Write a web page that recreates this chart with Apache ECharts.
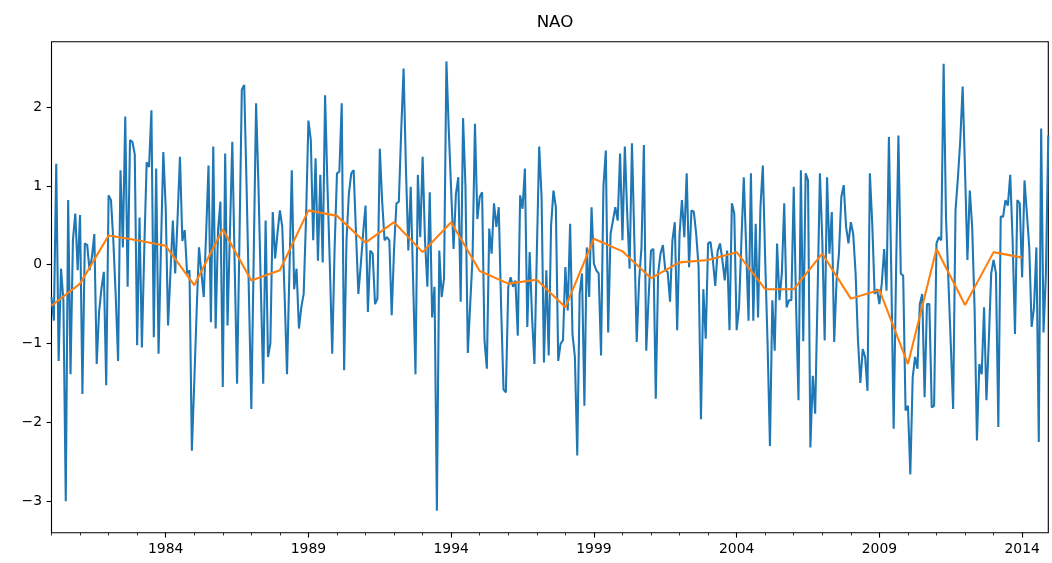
<!DOCTYPE html>
<html><head><meta charset="utf-8">
<script src="https://cdn.jsdelivr.net/npm/echarts@6/dist/echarts.min.js"></script>
<style>html,body{margin:0;padding:0;background:#fff}#c{width:1052px;height:563px}</style>
</head><body><div id="c"></div>
<script>
// Monthly NAO index, first value = January of startYear
const startYear = 1980;
const nao1980s = [
 -0.41,-0.71,1.28,-1.22,-0.05,-0.45,-3.0,0.82,-1.39,0.31,0.65,-0.07,
 0.63,-1.64,0.27,0.25,-0.07,0.1,0.39,-1.26,-0.6,-0.3,-0.09,-1.53,
 0.88,0.82,0.3,-0.4,-1.22,1.2,0.22,1.88,-0.28,1.58,1.56,1.4,
 -1.02,0.6,-1.05,0.2,1.3,1.24,1.96,-0.92,1.22,-1.13,0.2,1.43,
 0.73,-0.77,-0.1,0.56,-0.11,0.6,1.37,0.3,0.44,-0.11,-0.07,-2.36,
 -1.5,-0.6,0.22,-0.1,-0.41,0.4,1.26,-0.73,1.5,-0.81,0.44,0.8,
 -1.55,1.41,-0.77,0.4,1.56,0.0,-1.51,0.3,2.22,2.28,1.0,-0.4,
 -1.83,0.1,2.05,1.0,-0.3,-1.51,0.56,-1.17,-1.0,0.67,0.08,0.4,
 0.69,0.48,-0.4,-1.39,-0.1,1.2,-0.31,-0.05,-0.81,-0.54,-0.37,0.6,
 1.83,1.58,0.31,1.35,0.05,1.14,0.03,2.15,1.0,0.0,-1.13,0.2
];
const nao1990s = [
 1.16,1.18,2.05,-1.34,0.31,0.9,1.16,1.2,0.4,-0.37,0.0,0.4,
 0.75,-0.6,0.18,0.14,-0.5,-0.43,1.47,0.8,0.31,0.35,0.31,-0.64,
 0.2,0.78,0.8,1.7,2.49,1.2,0.18,0.99,-0.2,-1.39,1.14,0.35,
 1.37,0.31,-0.28,0.92,-0.67,-0.28,-3.12,0.18,-0.41,-0.18,2.58,1.7,
 0.94,0.2,0.9,1.11,-0.47,1.86,1.0,-1.12,-0.5,0.1,1.79,0.58,
 0.86,0.92,-0.96,-1.32,0.46,0.14,0.78,0.48,0.73,-0.54,-1.58,-1.62,
 -0.28,-0.16,-0.28,-0.2,-0.9,0.88,0.71,1.22,-0.79,0.16,-0.67,-1.26,
 0.14,1.5,0.86,-1.24,-0.07,-1.15,0.5,0.94,0.73,-1.22,-1.0,-0.96,
 -0.03,-0.58,0.52,-0.88,-1.17,-2.42,-0.37,-0.11,-1.79,0.22,-0.41,0.73,
 0.01,-0.07,-0.11,-1.15,0.99,1.45,-0.86,0.39,0.56,0.73,0.56,1.41
];
const nao2000s = [
 0.31,1.5,0.65,-0.05,1.54,0.31,-0.98,-0.2,0.22,1.52,-1.09,-0.41,
 0.18,0.2,-1.7,-0.11,0.14,0.25,-0.07,-0.09,-0.47,0.31,0.54,-0.83,
 0.39,0.82,0.35,1.16,-0.03,0.69,0.67,0.39,-0.03,-1.96,-0.31,-0.94,
 0.27,0.29,0.06,-0.27,0.17,0.27,0.06,-0.2,0.18,-0.83,0.78,0.65,
 -0.83,-0.54,0.3,1.11,0.22,-0.71,1.16,-0.71,0.52,-0.67,0.73,1.26,
 0.06,-1.0,-2.3,-0.45,-1.09,0.27,-0.45,-0.11,0.78,-0.54,-0.45,-0.45,
 0.99,-0.54,-1.72,1.2,-0.97,1.16,1.07,-2.32,-1.41,-1.89,-0.41,1.16,
 0.31,-0.96,1.11,0.14,0.67,-0.98,-0.2,0.14,0.86,1.01,0.48,0.27,
 0.54,0.39,-0.11,-0.96,-1.5,-1.07,-1.17,-1.6,1.16,0.52,-0.37,-0.31,
 -0.5,-0.24,0.2,-0.33,1.62,-0.11,-2.08,-0.11,1.64,-0.11,-0.14,-1.85
];
const nao2010s = [
 -1.79,-2.66,-1.43,-1.17,-1.32,-0.5,-0.37,-1.68,-0.5,-0.5,-1.81,-1.79,
 0.27,0.35,0.31,2.55,0.6,-0.2,-1.0,-1.83,0.69,1.1,1.58,2.26,
 1.2,0.06,0.94,0.48,-0.54,-2.23,-1.26,-1.39,-0.54,-1.72,-0.96,-0.11,
 0.06,-0.11,-2.06,0.61,0.61,0.82,0.75,1.14,0.31,-0.88,0.82,0.78,
 -0.16,1.07,0.65,0.22,-0.79,-0.54,0.22,-2.25,1.73,-0.86,-0.11,1.64
];
// Annual means (plotted at the start of each year)
const annualYears = [1980,1981,1982,1983,1984,1985,1986,1987,1988,1989,1990,1991,1992,1993,1994,1995,1996,1997,1998,1999,2000,2001,2002,2003,2004,2005,2006,2007,2008,2009,2010,2011,2012,2013,2014];
const annualMean = [-0.52,-0.24,0.37,0.31,0.24,-0.26,0.45,-0.2,-0.07,0.69,0.62,0.28,0.54,0.16,0.54,-0.08,-0.24,-0.19,-0.54,0.33,0.17,-0.17,0.03,0.06,0.16,-0.31,-0.31,0.14,-0.43,-0.32,-1.26,0.2,-0.51,0.16,0.09];
const xTickYears = [1984,1989,1994,1999,2004,2009,2014];
const yTicks = [-3,-2,-1,0,1,2];

const monthly = nao1980s.concat(nao1990s, nao2000s, nao2010s);
const monthlyData = monthly.map((v, i) => [startYear + i / 12, v]);
const annualData = annualYears.map((y, i) => [y, annualMean[i]]);
const xMin = startYear, xMax = startYear + (monthly.length - 1) / 12;
const minorYears = [];
for (let y = startYear; y <= Math.floor(xMax); y++) minorYears.push(y);

const chart = echarts.init(document.getElementById('c'), null, {renderer: 'canvas'});
const font = 'DejaVu Sans';
chart.setOption({
  animation: false,
  backgroundColor: '#fff',
  title: {text: 'NAO', left: 550, top: 9, textAlign: 'center',
    textStyle: {fontFamily: font, fontSize: 16.7, fontWeight: 'normal', color: '#000'}},
  grid: {left: 51.5, right: 3.7, top: 41.7, bottom: 30.3, show: true, borderColor: '#000', borderWidth: 1.1, backgroundColor: 'transparent'},
  xAxis: [{
    type: 'value', min: xMin, max: xMax, gridIndex: 0, position: 'bottom',
    axisLine: {show: false, onZero: false}, splitLine: {show: false},
    axisTick: {show: true, customValues: xTickYears, length: 4.9, lineStyle: {color: '#000', width: 1.1}},
    axisLabel: {customValues: xTickYears, formatter: v => String(v), margin: 9.5, color: '#000', fontFamily: font, fontSize: 13.9}
  }, {
    type: 'value', min: xMin, max: xMax, gridIndex: 0, position: 'bottom',
    axisLine: {show: false, onZero: false}, splitLine: {show: false},
    axisTick: {show: true, customValues: minorYears, length: 2.8, lineStyle: {color: '#000', width: 0.8}},
    axisLabel: {show: false}
  }],
  yAxis: {
    type: 'value', min: -3.40, max: 2.83,
    axisLine: {show: false, onZero: false}, splitLine: {show: false},
    axisTick: {show: true, customValues: yTicks, length: 4.9, lineStyle: {color: '#000', width: 1.1}},
    axisLabel: {customValues: yTicks, formatter: v => String(v).replace('-', '\u2212'), margin: 9.5, color: '#000', fontFamily: font, fontSize: 13.9}
  },
  series: [
    {type: 'line', data: monthlyData, showSymbol: false, xAxisIndex: 0, lineStyle: {color: '#1f77b4', width: 2.08}, itemStyle: {color: '#1f77b4'}},
    {type: 'line', data: annualData, showSymbol: false, xAxisIndex: 0, lineStyle: {color: '#ff7f0e', width: 2.08}, itemStyle: {color: '#ff7f0e'}}
  ]
});
</script>
</body></html>
